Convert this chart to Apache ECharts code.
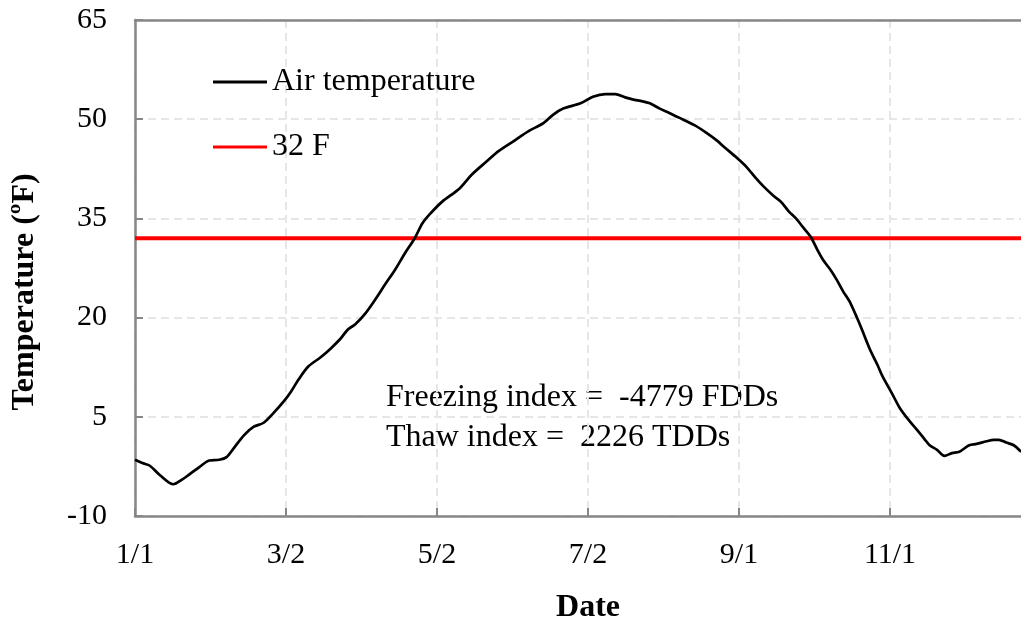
<!DOCTYPE html>
<html>
<head>
<meta charset="utf-8">
<script src="https://cdn.jsdelivr.net/npm/echarts@6/dist/echarts.min.js"></script>
<style>
html,body{margin:0;padding:0;background:#fff;}
#chart{width:1021px;height:622px;}
</style>
</head>
<body>
<div id="chart"></div>
<script>
// Day offset from 1/1
const days = [0,3,6,10,15.5,19,22,26,30,34,37,40,44,48,52,56,60,63,66,70,75,79,83,86,89,93,97,101,105,109,113,116,119,124,131,136,142,147,153,159,165,169,173,180,185,190,194,198,201,205,208,212,216,220,226,231,235,238,243,247,251,254,258,261,264,267,270,273,276,278,281,283.5,286,289,293,297,300,302,306,309,313,316,319,321,324,327,330,333,337,340,344,347,349,352,355,358];
const airTemp = [-1.5,-2.0,-2.4,-3.8,-5.2,-4.5,-3.7,-2.6,-1.6,-1.5,-1.1,0.3,2.2,3.5,4.1,5.6,7.3,8.8,10.6,12.6,14.0,15.3,16.8,18.2,19.0,20.6,22.7,25.0,27.2,29.7,32.0,34.2,35.6,37.5,39.5,41.6,43.6,45.2,46.7,48.2,49.4,50.7,51.6,52.4,53.4,53.8,53.8,53.3,53.0,52.7,52.4,51.6,50.9,50.2,49.1,47.9,46.8,45.8,44.2,42.8,41.0,39.8,38.4,37.5,36.1,35.0,33.6,32.2,30.0,28.7,27.2,25.7,24.0,22.2,18.8,15.1,12.8,11.1,8.4,6.3,4.3,3.0,1.6,0.7,0.0,-0.9,-0.5,-0.3,0.7,0.9,1.3,1.5,1.5,1.1,0.7,-0.3];
const freezeDays = [0, 366];
const freezeTemp = [32, 32];
const xTickDays = [0, 61, 122, 183, 244, 305];
const xTickLabels = ['1/1', '3/2', '5/2', '7/2', '9/1', '11/1'];
const seriesNames = ['Air temperature', '32 F'];
const notes = ['Freezing index =  -4779 FDDs', 'Thaw index =  2226 TDDs'];

const serif = '"Liberation Serif", "Times New Roman", serif';
const axisGray = '#878787';

const chart = echarts.init(document.getElementById('chart'));
chart.setOption({
  backgroundColor: '#fff',
  animation: false,
  grid: {left: 135, top: 20, width: 906, height: 496, containLabel: false, outerBoundsMode: 'none'},
  legend: {
    data: seriesNames,
    orient: 'vertical',
    left: 213, top: 64, padding: 0,
    icon: 'rect',
    itemWidth: 54, itemHeight: 3, itemGap: 29,
    textStyle: {fontFamily: serif, fontSize: 32, color: '#000', lineHeight: 36}
  },
  xAxis: [{
    type: 'value', min: 0, max: 366, interval: 61,
    name: 'Date', nameLocation: 'middle', nameGap: 76,
    nameTextStyle: {fontFamily: serif, fontSize: 32, fontWeight: 'bold', color: '#000'},
    axisLine: {onZero: false, lineStyle: {color: axisGray, width: 2.5}},
    axisTick: {inside: true, length: 8, lineStyle: {color: axisGray, width: 2}},
    axisLabel: {
      margin: 24, fontFamily: serif, fontSize: 30, color: '#000',
      formatter: v => { const i = xTickDays.indexOf(v); return i >= 0 ? xTickLabels[i] : ''; }
    },
    splitLine: {show: true, lineStyle: {color: '#e6e6e6', width: 2, type: [8, 5]}}
  }, {
    type: 'value', min: 0, max: 366, position: 'top',
    axisLine: {show: true, onZero: false, lineStyle: {color: axisGray, width: 2.5}},
    axisTick: {show: false}, axisLabel: {show: false}, splitLine: {show: false}
  }],
  yAxis: {
    type: 'value', min: -10, max: 65, interval: 15,
    name: 'Temperature (ºF)', nameLocation: 'middle', nameGap: 94, nameRotate: 90,
    nameTextStyle: {fontFamily: serif, fontSize: 32, fontWeight: 'bold', color: '#000', padding: [0, 48, 0, 0]},
    axisLine: {show: true, onZero: false, lineStyle: {color: axisGray, width: 2.5}},
    axisTick: {show: true, inside: true, length: 8, lineStyle: {color: axisGray, width: 2}},
    axisLabel: {margin: 28, fontFamily: serif, fontSize: 30, color: '#000'},
    splitLine: {show: true, lineStyle: {color: '#e6e6e6', width: 2, type: [8, 5]}}
  },
  series: [{
    name: seriesNames[0], type: 'line', symbol: 'none', smooth: 0.3, z: 4,
    lineStyle: {color: '#000', width: 2.7}, itemStyle: {color: '#000'},
    data: days.map((d, i) => [d, airTemp[i]])
  }, {
    name: seriesNames[1], type: 'line', symbol: 'none', z: 3,
    lineStyle: {color: '#ff0000', width: 4}, itemStyle: {color: '#ff0000'},
    data: freezeDays.map((d, i) => [d, freezeTemp[i]])
  }],
  graphic: [
    {type: 'text', left: 386, top: 382, style: {text: notes[0], font: '32px ' + serif, fill: '#000'}},
    {type: 'text', left: 386, top: 422, style: {text: notes[1], font: '32px ' + serif, fill: '#000'}}
  ]
});
</script>
</body>
</html>
